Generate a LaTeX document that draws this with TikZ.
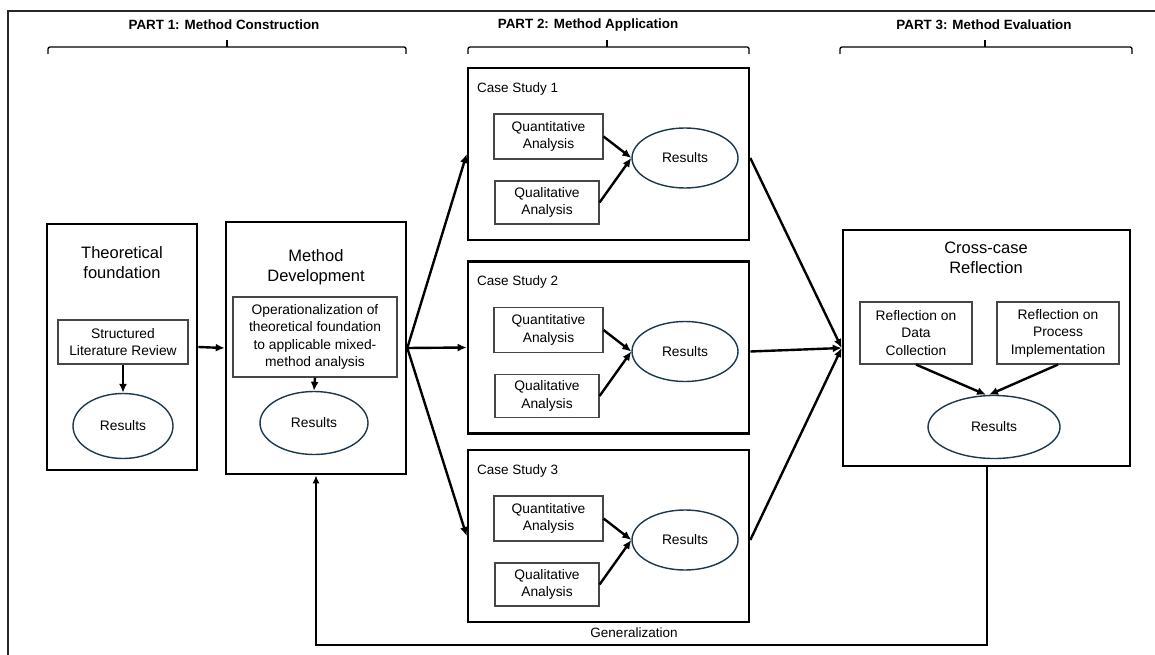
\documentclass[tikz,border=0pt]{standalone}
\usepackage{fontspec}
\setmainfont{Liberation Sans}
\usetikzlibrary{arrows.meta,shapes.geometric,calc}
\definecolor{resline}{RGB}{28,56,74}
\definecolor{boxline}{RGB}{70,70,70}
\definecolor{frameline}{RGB}{40,40,40}
\begin{document}
\begin{tikzpicture}[x=1pt,y=-1pt,
  bigbox/.style={draw=black,line width=2.6pt,inner sep=0pt},
  innerbox/.style={draw=boxline,line width=1.1pt,align=center,inner sep=2pt,
    font=\fontsize{13.8}{17.5}\selectfont},
  res/.style={ellipse,draw=resline,line width=1.4pt,inner sep=0pt,
    font=\fontsize{13.8}{17.5}\selectfont},
  title/.style={align=center,font=\fontsize{16.5}{20}\selectfont},
  caselabel/.style={anchor=west,inner sep=0pt,font=\fontsize{13.5}{16}\selectfont},
  parthead/.style={font=\fontsize{13.4}{16}\selectfont\bfseries},
  brace/.style={line width=1.3pt,rounded corners=2pt},
  arr/.style={line width=2.4pt,-{Latex[length=9pt,width=8pt]}},
  genarr/.style={line width=2pt,-{Latex[length=8pt,width=7pt]}},
  glabel/.style={font=\fontsize{13.5}{16}\selectfont},
]
\useasboundingbox (0,0) rectangle (1155,655);

% page frame
\draw[frameline,line width=2pt] (8,655) -- (8,11) -- (1155,11);

% part headings and braces
\node[parthead] (p1) at (224,25) {PART 1: Method Construction};
\node[parthead] (p2) at (588,25) {PART 2: Method Application};
\node[parthead] (p3) at (984,25) {PART 3: Method Evaluation};
\draw[brace] (48,54) -- (48,47) -- (406,47) -- (406,54);
\draw[brace] (227,47) -- (227,40);
\draw[brace] (468,54) -- (468,47) -- (749,47) -- (749,54);
\draw[brace] (607,47) -- (607,40);
\draw[brace] (840,54) -- (840,47) -- (1132,47) -- (1132,54);
\draw[brace] (985,47) -- (985,40);

% Part 1: theoretical foundation
\node[bigbox,minimum width=150pt,minimum height=246pt] (theo) at (122,347) {};
\node[title] (theot) at (122,263) {Theoretical\\foundation};
\node[innerbox,minimum width=130pt,minimum height=44pt] (slr) at (123,342) {Structured\\Literature Review};
\node[res,minimum width=100pt,minimum height=65pt] (theores) at (123,426) {Results};
\draw[arr] (slr.south) -- (theores.north);

% Part 1: method development
\node[bigbox,minimum width=180pt,minimum height=252pt] (meth) at (316,348) {};
\node[title] (metht) at (316,267) {Method\\Development};
\node[innerbox,minimum width=164pt,minimum height=80pt] (op) at (315,337)
  {Operationalization of\\theoretical foundation\\to applicable mixed-\\method analysis};
\node[res,minimum width=108pt,minimum height=63pt] (methres) at (314,423) {Results};
\draw[arr] (op.south) -- (methres.north);
\draw[arr] (theo.east) -- (meth.west);

% Part 2: case studies
\foreach \i/\cy in {1/154,2/347.5,3/536}{
  \node[bigbox,minimum width=281pt,minimum height=172pt] (cs\i) at (608.5,\cy) {};
  \node[caselabel] (cl\i) at (477,\cy-65) {Case Study \i};
  \node[innerbox,minimum width=109pt,minimum height=45pt] (qn\i) at (548.5,\cy-17.5) {Quantitative\\Analysis};
  \node[innerbox,minimum width=104pt,minimum height=43pt] (ql\i) at (547,\cy+48.5) {Qualitative\\Analysis};
  \node[res,minimum width=106pt,minimum height=60pt] (r\i) at (685,\cy+4) {Results};
  \draw[arr] (qn\i.east) -- (r\i.west);
  \draw[arr] (ql\i.east) -- (r\i.west);
  \draw[arr] (meth.east) -- (cs\i.west);
}

% Part 3: cross-case reflection
\node[bigbox,minimum width=287pt,minimum height=236pt] (cross) at (986.5,348) {};
\node[title] (crosst) at (986,258) {Cross-case\\Reflection};
\node[innerbox,minimum width=112pt,minimum height=62pt] (rdc) at (916,333) {Reflection on\\Data\\Collection};
\node[innerbox,minimum width=122pt,minimum height=62pt] (rpi) at (1058,333) {Reflection on\\Process\\Implementation};
\node[res,minimum width=132pt,minimum height=63pt] (crossres) at (994,427) {Results};
\draw[arr] (rdc.south) -- ($(crossres.north)+(-8,0)$);
\draw[arr] (rpi.south) -- ($(crossres.north)+(-5,0)$);

% case studies feed the cross-case reflection
\foreach \i in {1,2,3}{
  \draw[arr] (cs\i.east |- r\i.center) -- (cross.west);
}

% generalization loop back to method development
\coordinate (gy) at (0,645);
\draw[genarr] (cross.south) -- (cross.south |- gy) -| (meth.south);
\node[glabel] (gen) at (634,633) {Generalization};
\end{tikzpicture}
\end{document}
